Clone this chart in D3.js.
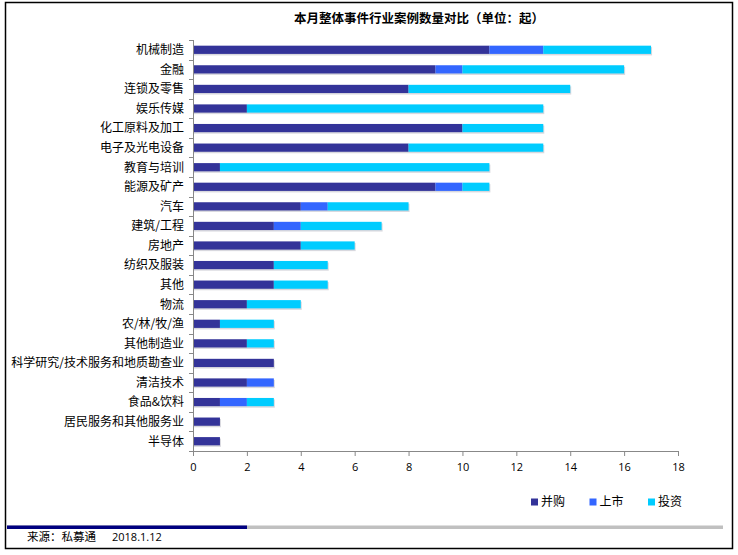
<!DOCTYPE html>
<html>
<head>
<meta charset="utf-8">
<script src="https://cdn.jsdelivr.net/npm/d3@7"></script>
<style>
  body { margin: 0; background: #fff; }
  svg { display: block; font-family: "Noto Sans CJK SC", "Noto Sans", sans-serif; }
</style>
</head>
<body>
<div id="chart"></div>
<script>
// 行业案例数量 stacked bars

const categories = ["机械制造", "金融", "连锁及零售", "娱乐传媒", "化工原料及加工", "电子及光电设备",
  "教育与培训", "能源及矿产", "汽车", "建筑/工程", "房地产", "纺织及服装", "其他", "物流",
  "农/林/牧/渔", "其他制造业", "科学研究/技术服务和地质勘查业", "清洁技术", "食品&饮料",
  "居民服务和其他服务业", "半导体"];
const seriesNames = ["并购", "上市", "投资"];
const mergers  = [11, 9, 8, 2, 10, 8, 1, 9, 4, 3, 4, 3, 3, 2, 1, 2, 3, 2, 1, 1, 1];
const listings = [2, 1, 0, 0, 0, 0, 0, 1, 1, 1, 0, 0, 0, 0, 0, 0, 0, 1, 1, 0, 0];
const invests  = [4, 6, 6, 11, 3, 5, 10, 1, 3, 3, 2, 2, 2, 2, 2, 1, 0, 0, 1, 0, 0];
const xTicks = [0, 2, 4, 6, 8, 10, 12, 14, 16, 18];
const colors = ["#333399", "#3366ff", "#00ccff"];

const width = 738, height = 555,
    margin = ({ top: 40, right: 60, bottom: 104, left: 193 });

const svg = d3.select("#chart")
    .append("svg")
    .attr("width", width)
    .attr("height", height);

// frame
svg.append("rect")
    .attr("x", 5.5).attr("y", 2.5)
    .attr("width", 727).attr("height", 546)
    .attr("fill", "none")
    .attr("stroke", "#000")
    .attr("stroke-width", 1.5);

svg.append("text")
    .attr("x", 419).attr("y", 23)
    .attr("text-anchor", "middle")
    .attr("font-size", 12.5)
    .attr("font-weight", "bold")
    .text("本月整体事件行业案例数量对比（单位：起）");

const data = categories.map((c, i) => ({
  name: c, "并购": mergers[i], "上市": listings[i], "投资": invests[i]
}));

const stack = d3.stack().keys(seriesNames)(data);

const x = d3.scaleLinear()
    .domain([0, 18])
    .range([margin.left, width - margin.right]);

const y = d3.scaleBand()
    .domain(categories)
    .range([margin.top, height - margin.bottom])
    .paddingInner(0.58)
    .paddingOuter(0.29);

// shadows under each whole bar
svg.append("g")
  .selectAll("rect")
  .data(data)
  .join("rect")
    .attr("x", x(0) + 1)
    .attr("y", d => y(d.name) + 1.5)
    .attr("width", d => x(d["并购"] + d["上市"] + d["投资"]) - x(0))
    .attr("height", y.bandwidth())
    .attr("fill", "#c8c8d0")
    .attr("opacity", 0.7);

svg.append("g")
  .selectAll("g")
  .data(stack)
  .join("g")
    .attr("fill", (d, i) => colors[i])
  .selectAll("rect")
  .data(d => d)
  .join("rect")
    .attr("x", d => x(d[0]))
    .attr("y", d => y(d.data.name))
    .attr("width", d => x(d[1]) - x(d[0]))
    .attr("height", y.bandwidth());

// y axis with ticks between bands
const yAxis = svg.append("g");
yAxis.append("line")
    .attr("x1", x(0) + 0.5).attr("x2", x(0) + 0.5)
    .attr("y1", margin.top).attr("y2", height - margin.bottom)
    .attr("stroke", "#888");
const bandEdge = i => Math.round(margin.top + i * (height - margin.top - margin.bottom) / categories.length) + 0.5;
yAxis.selectAll(".tk")
  .data(d3.range(categories.length + 1))
  .join("line")
    .attr("class", "tk")
    .attr("x1", x(0) - 4).attr("x2", x(0))
    .attr("y1", bandEdge)
    .attr("y2", bandEdge)
    .attr("stroke", "#888");
yAxis.selectAll("text")
  .data(categories)
  .join("text")
    .attr("x", x(0) - 9)
    .attr("y", d => y(d) + y.bandwidth() / 2)
    .attr("dy", "0.36em")
    .attr("text-anchor", "end")
    .attr("font-size", 12)
    .attr("fill", "#000")
    .text(d => d);

// x axis
const xAxis = svg.append("g")
    .attr("transform", `translate(0,${height - margin.bottom})`)
    .call(d3.axisBottom(x).tickValues(xTicks).tickSize(5).tickSizeOuter(0));
xAxis.select(".domain").attr("stroke", "#888");
xAxis.selectAll(".tick line").attr("stroke", "#888");
xAxis.selectAll(".tick text")
    .attr("font-size", 11)
    .attr("fill", "#000")
    .attr("dy", "1.1em")
    .attr("font-family", "'Open Sans', 'DejaVu Sans', sans-serif");

// legend
const legend = svg.append("g")
  .selectAll("g")
  .data(seriesNames)
  .join("g")
    .attr("transform", (d, i) => `translate(${531 + i * 58.5},502)`);
legend.append("rect")
    .attr("x", 0).attr("y", -3.5)
    .attr("width", 7).attr("height", 7)
    .attr("fill", (d, i) => colors[i]);
legend.append("text")
    .attr("x", 10).attr("dy", "0.36em")
    .attr("font-size", 12)
    .text(d => d);

// footer bar
svg.append("rect")
    .attr("x", 7).attr("y", 525.5)
    .attr("width", 716).attr("height", 3.5)
    .attr("fill", "#c0c0c0");
svg.append("rect")
    .attr("x", 7).attr("y", 525.5)
    .attr("width", 240).attr("height", 3.5)
    .attr("fill", "#000080");

svg.append("text")
    .attr("x", 27).attr("y", 541)
    .attr("font-size", 11.5)
    .text("来源：私募通");
svg.append("text")
    .attr("x", 112).attr("y", 541)
    .attr("font-size", 11)
    .attr("font-family", "'Open Sans', sans-serif")
    .text("2018.1.12");

// site line, cut off by the frame as in the original
svg.append("clipPath").attr("id", "cut")
  .append("rect").attr("x", 0).attr("y", 0).attr("width", 738).attr("height", 548);
svg.append("text")
    .attr("clip-path", "url(#cut)")
    .attr("x", 9).attr("y", 556)
    .attr("font-size", 11)
    .attr("font-family", "'Open Sans', sans-serif")
    .text("www.pedata.cn");
</script>
</body>
</html>
